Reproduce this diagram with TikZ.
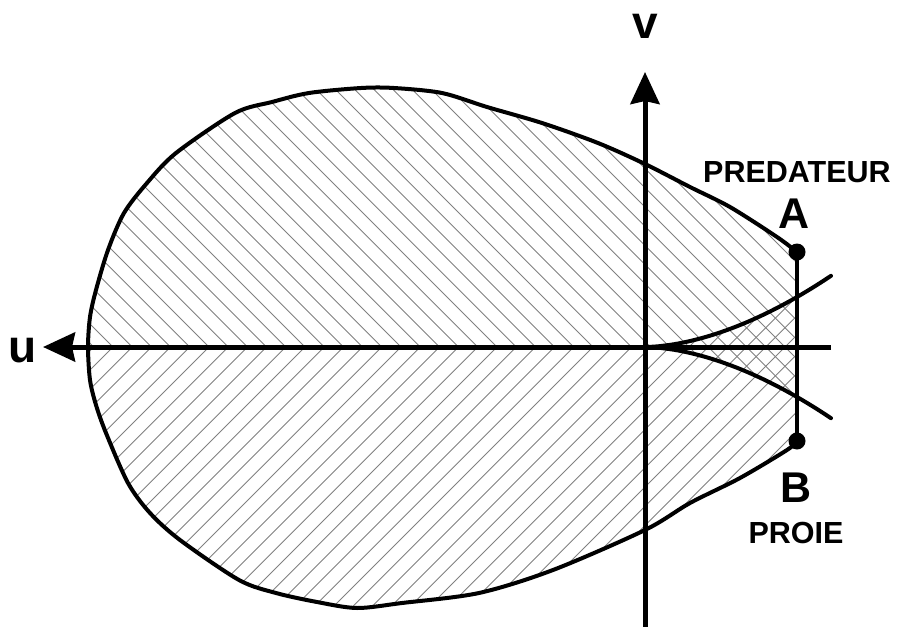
\documentclass[tikz,border=0pt]{standalone}
\usepackage{fontspec}
\setmainfont{Liberation Sans}
\usetikzlibrary{arrows.meta}
\begin{document}
\begin{tikzpicture}[x=1pt,y=-1pt,
  outline/.style={line width=4pt, line join=round, line cap=round},
  axisline/.style={line width=5pt, -{Stealth[length=32pt,width=29pt,inset=3pt]}},
  hatch/.style={line width=0.9pt, black!50},
  dot/.style={circle, fill=black, minimum size=17pt, inner sep=0pt},
  lbl/.style={inner sep=0pt, anchor=base, font=\fontsize{30.5}{30.5}\selectfont\bfseries},
  big/.style={inner sep=0pt, anchor=base, font=\fontsize{43}{43}\selectfont\bfseries},
  axlbl/.style={inner sep=0pt, anchor=base, font=\fontsize{46}{46}\selectfont\bfseries}]
\useasboundingbox (0,0) rectangle (898,627);

\coordinate (O) at (645,347);
\coordinate (uend) at (831,347);
\coordinate (utip) at (43,347);
\coordinate (vbot) at (645,630);
\coordinate (vtip) at (645,72);

% upper hatched region (\ lines): upper half + cusp zone
\begin{scope}
  \clip plot[smooth,tension=0.5] coordinates {(88,347) (90,317) (96,290) (108,250) (124,213) (147,183) (176,153) (235,113) (272,102) (309,93) (361,88) (394,88) (442,93) (487,107) (542,123) (598,143) (645,164) (690,187) (730,207) (777,237) (797,252)}
    -- (797,397) -- plot[domain=152:0.5,samples=30] ({645+\x},{347+50*(\x/152)^1.75}) -- (O) -- cycle;
  \foreach \k in {-20,...,40}
    \draw[hatch] ({305+19.2*\k-330},17) -- ++(660,660);
\end{scope}

% lower hatched region (/ lines): lower half + cusp zone
\begin{scope}
  \clip plot[smooth,tension=0.5] coordinates {(88,347) (90,380) (96,405) (106,433) (128,483) (150,513) (180,540) (239,580) (276,593) (317,602) (357,608) (402,603) (479,593) (553,570) (645,530) (690,503) (740,478) (787,450) (797,441)}
    -- (797,297) -- plot[domain=152:0.5,samples=30] ({645+\x},{347-50*(\x/152)^1.75}) -- (O) -- cycle;
  \foreach \k in {-20,...,40}
    \draw[hatch] ({305+19.2*\k-330},677) -- ++(660,-660);
\end{scope}

% teardrop outline
\draw[outline] plot[smooth,tension=0.5] coordinates {(797,252) (777,237) (730,207) (690,187) (645,164) (598,143) (542,123) (487,107) (442,93) (394,88) (361,88) (309,93) (272,102) (235,113) (176,153) (147,183) (124,213) (108,250) (96,290) (90,317) (88,347) (90,380) (96,405) (106,433) (128,483) (150,513) (180,540) (239,580) (276,593) (317,602) (357,608) (402,603) (479,593) (553,570) (645,530) (690,503) (740,478) (787,450) (797,441)};

% cusp curves
\draw[outline] (O) -- plot[domain=0.5:186,samples=40] ({645+\x},{347-50*(\x/152)^1.75});
\draw[outline] (O) -- plot[domain=0.5:186,samples=40] ({645+\x},{347+50*(\x/152)^1.75});

% axes
\draw[axisline] (uend) -- (utip);
\draw[axisline] (vbot) -- (vtip);

% points A, B
\node[dot] (A) at (797,252) {};
\node[dot] (B) at (797,441) {};
\draw[outline] (A) -- (B);

% labels
\node[axlbl] (vlab) at (645,38) {v};
\node[axlbl] (ulab) at (22.5,362) {u};
\node[lbl] (pred) at (797,182) {PREDATEUR};
\node[big] (Alab) at (794,228) {A};
\node[big] (Blab) at (796.5,502) {B};
\node[lbl] (proie) at (796,543) {PROIE};
\end{tikzpicture}
\end{document}
